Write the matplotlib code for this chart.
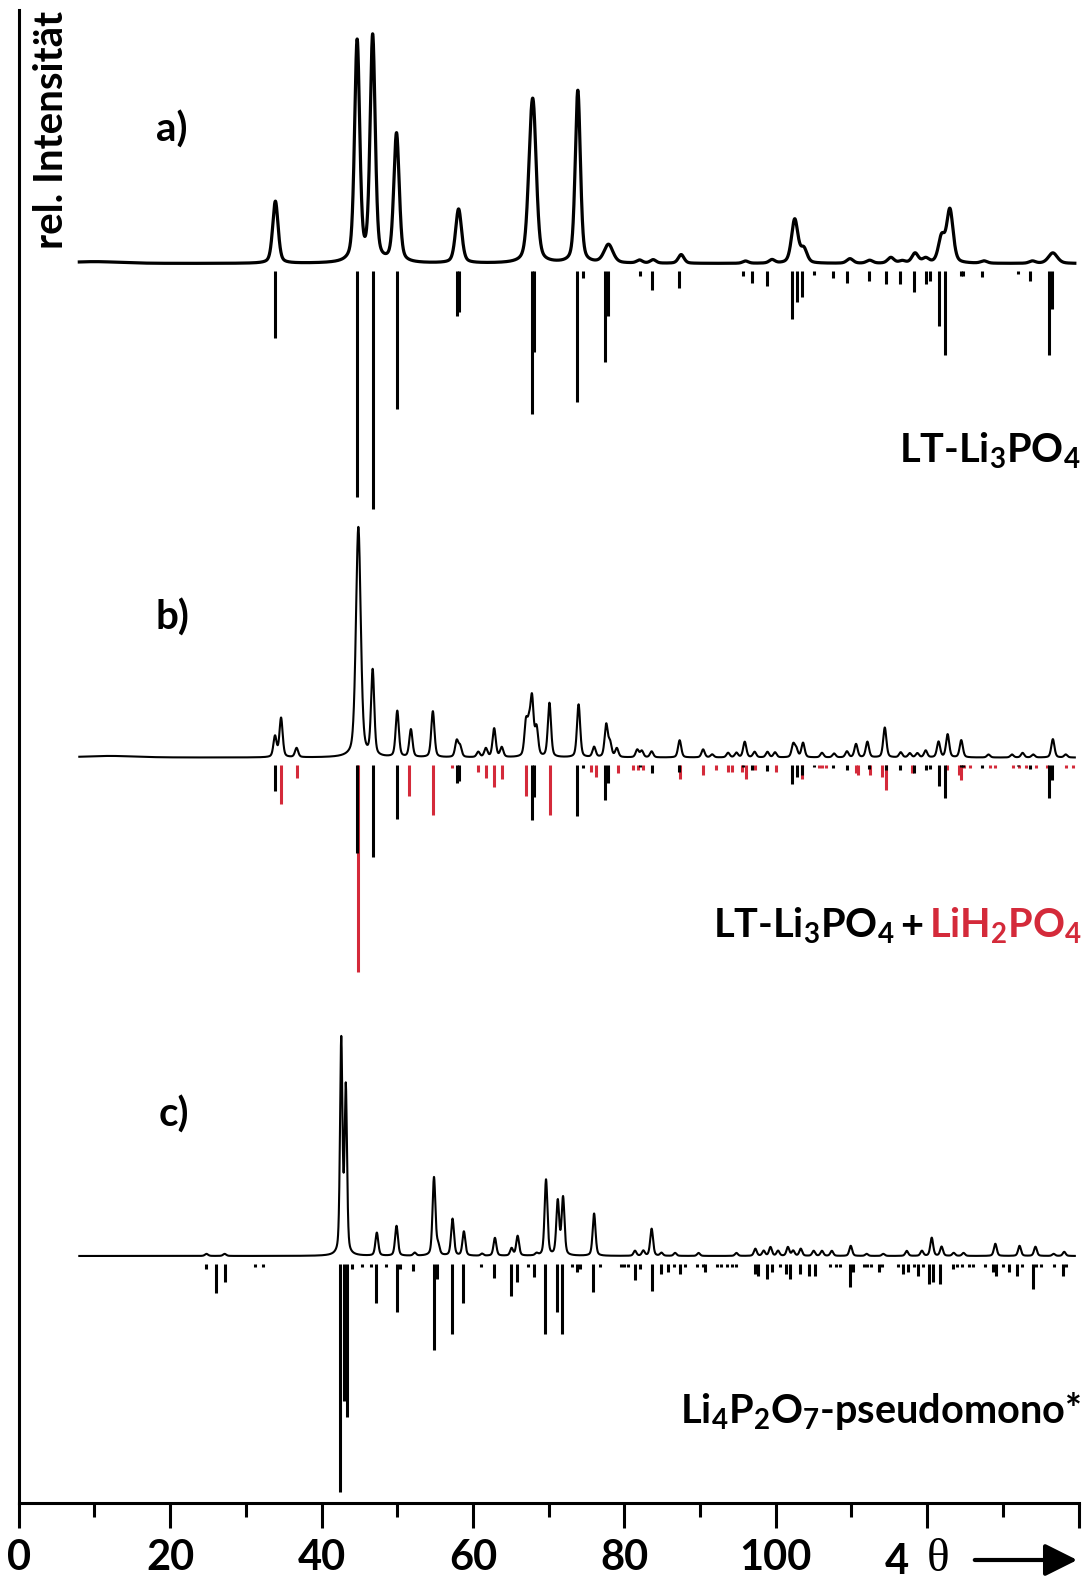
import numpy as np
import matplotlib
matplotlib.use("Agg")
import matplotlib.pyplot as plt

plt.rcParams['font.family'] = ['Lato', 'DejaVu Sans']
plt.rcParams['font.weight'] = 'bold'
plt.rcParams['mathtext.fontset'] = 'custom'
plt.rcParams['mathtext.rm'] = 'Lato:bold'
plt.rcParams['mathtext.it'] = 'Lato:bold'
plt.rcParams['mathtext.bf'] = 'Lato:bold'
plt.rcParams['mathtext.sf'] = 'Lato:bold'
plt.rcParams['mathtext.default'] = 'rm'

RED = '#d42a3a'

# ---------------- measured pattern a) LT-Li3PO4 ----------------
a_peak_pos = [10.0, 33.9, 44.7, 46.75, 49.9, 58.1, 67.6, 68.0, 73.85, 77.9, 82.0, 83.8,
              87.5, 96.0, 99.5, 102.5, 103.7, 109.8, 112.4, 115.2, 116.7, 118.4, 119.8,
              121.9, 123.0, 127.5, 133.9, 136.6]
a_peak_int = [0.8, 27, 96, 98, 56, 23.5, 28, 52, 75, 8, 1.3, 1.5,
              3.8, 1.0, 1.5, 19, 6, 2, 1.3, 2.5, 1.0, 4.3, 2.0,
              11, 23, 1.0, 1.0, 4.6]
a_peak_fwhm = [8.0, 0.85, 0.8, 0.8, 0.85, 0.95, 1.0, 1.0, 0.8, 1.4, 0.9, 0.9,
               0.9, 0.9, 0.9, 1.0, 1.0, 1.0, 1.0, 1.0, 1.0, 1.0, 1.0,
               1.0, 1.0, 1.0, 1.0, 1.4]

# reference lines LT-Li3PO4 (relative intensity, %)
li3po4_pos = [33.9, 44.7, 46.75, 49.9, 57.9, 58.2, 67.8, 68.1, 73.8, 74.6, 77.4, 77.9,
              82.0, 83.6, 87.2, 95.7, 96.9, 98.9, 102.2, 102.8, 103.5, 105.0, 107.5,
              109.4, 112.3, 114.6, 116.4, 118.2, 119.9, 120.4, 121.5, 122.4, 124.4,
              124.7, 127.3, 132.0, 133.6, 136.1, 136.5]
li3po4_int = [28, 95, 100, 58, 19, 17, 60, 34, 55, 3, 38, 19,
              2, 8, 7, 2, 5, 6, 20, 13, 11, 1.5, 3,
              5, 4, 5.5, 5.5, 8.5, 5.5, 4, 23, 35, 2,
              2, 2.5, 1, 4, 35, 16]

# ---------------- measured pattern b) ----------------
b_peak_pos = [12.0, 33.85, 34.65, 36.7, 44.86, 46.75, 50.0, 51.8, 54.7, 57.85, 58.3,
              60.7, 61.7, 62.8, 63.8, 67.0, 67.4, 67.8, 68.4, 70.1, 73.95, 76.0,
              77.6, 78.1, 79.0, 81.7, 82.3, 83.6, 87.3, 90.4, 91.6, 93.7, 94.8,
              95.9, 97.2, 98.9, 99.9, 102.3, 102.7, 103.6, 106.1, 107.7, 109.4,
              110.6, 112.1, 114.4, 116.5, 117.7, 118.7, 119.8, 121.5, 122.7, 124.5,
              128.1, 131.2, 132.6, 134.0, 136.6, 138.3]
b_peak_int = [0.7, 9, 17, 4, 100, 37, 20, 12, 20, 7, 4.5,
              2.3, 3.8, 12.5, 4.2, 14, 11, 24, 12, 23.5, 23, 4.4,
              14, 6, 3.8, 3.3, 2.8, 2.6, 7.5, 3.5, 1.3, 2, 2,
              6.8, 2.4, 2.4, 2.2, 5.5, 3.5, 6.3, 2, 1.7, 2.6,
              5.8, 6.8, 13, 2.2, 1.8, 1.8, 3, 6.8, 10, 7.5,
              1.3, 1.3, 2, 1.3, 8, 1.3]
b_peak_fwhm = [8.0, 0.5, 0.5, 0.5, 0.75] + [0.5] * 54

# reference lines LiH2PO4 (relative intensity, %)
lih2po4_pos = [34.7, 36.7, 44.8, 51.6, 54.7, 57.2, 60.6, 61.7, 62.8, 63.8, 67.0, 70.2,
               75.6, 76.3, 79.2, 81.2, 81.8, 82.4, 87.3, 90.4, 92.1, 93.7, 94.2, 95.6,
               96.0, 97.3, 100.0, 103.5, 105.7, 106.1, 106.6, 110.6, 110.9, 112.5,
               114.0, 114.6, 118.0, 122.6, 124.2, 124.5, 124.9, 125.6, 128.3, 129.0,
               131.4, 132.1, 133.0, 134.4, 135.8, 138.4, 139.3]
lih2po4_int = [18.5, 6, 100, 15, 24, 1.5, 3, 6, 10.5, 6.5, 15, 24,
               3, 5.6, 3.6, 2, 2, 2.4, 6.8, 4.8, 2.4, 3, 3, 3,
               6.8, 2.4, 3.4, 6.8, 1.5, 1.5, 1.5, 3.6, 4.8, 4.8,
               5.8, 12, 3.9, 2.4, 4.8, 7.3, 1.5, 1.5, 1.5, 1.5,
               1.5, 1.5, 1.5, 1.5, 1.5, 1.5, 1.5]

# ---------------- measured pattern c) ----------------
c_peak_pos = [24.8, 27.2, 42.6, 43.2, 47.3, 49.9, 52.3, 54.85, 55.4, 57.3, 58.8, 61.2,
              62.9, 65.1, 65.9, 68.4, 69.65, 71.2, 71.9, 76.0, 81.4, 82.5, 83.6, 84.9,
              86.7, 89.8, 94.8, 97.3, 98.4, 99.3, 100.3, 101.6, 102.3, 103.3, 105.0,
              106.1, 107.4, 109.9, 112.0, 114.2, 117.3, 119.3, 120.6, 121.9, 123.5,
              124.8, 129.0, 132.2, 134.3, 136.7, 138.1]
c_peak_int = [0.9, 0.9, 93, 72, 10, 13, 1.3, 34, 4, 16, 10.5, 0.9,
              7.8, 3.2, 8.6, 0.9, 33, 23.5, 25, 18.4, 2.2, 2.2, 11.8, 1.3,
              1.3, 1.3, 1.3, 3.1, 2.2, 3.8, 2.2, 3.8, 2.2, 3.1, 2.2,
              2.2, 2.2, 4.4, 0.9, 0.9, 2.2, 2.2, 7.9, 4, 1.3,
              1.3, 5.3, 4.4, 4, 0.9, 1.8]
c_peak_fwhm = [0.5, 0.5, 0.38, 0.38] + [0.45] * 47

# reference lines Li4P2O7-pseudomono (relative intensity, %)
li4p2o7_pos = [24.8, 26.0, 27.2, 31.2, 32.2, 42.45, 42.9, 43.3, 44.0, 45.4, 46.5, 47.2,
               48.5, 49.9, 50.3, 52.1, 54.85, 55.2, 57.2, 58.7, 61.0, 62.8, 65.0, 65.8,
               67.3, 68.1, 69.5, 71.1, 71.7, 73.1, 73.8, 74.2, 75.9, 76.8, 79.5, 79.9,
               80.5, 81.4, 82.1, 83.6, 84.9, 85.8, 86.5, 87.4, 88.0, 89.6, 90.4, 90.7,
               92.3, 92.8, 93.5, 94.2, 94.8, 97.3, 97.7, 98.8, 99.5, 100.6, 101.3, 101.9,
               103.2, 104.4, 105.2, 107.2, 108.0, 108.5, 109.8, 110.2, 111.6, 112.1,
               112.6, 113.6, 114.0, 116.2, 116.8, 117.5, 118.2, 118.8, 119.5, 120.3,
               120.8, 121.7, 123.4, 124.0, 124.6, 125.5, 126.1, 127.6, 128.7, 129.1,
               130.0, 130.8, 131.8, 132.5, 134.0, 134.4, 135.0, 136.7, 138.0, 138.4]
li4p2o7_int = [2.2, 13, 8, 1.3, 1.3, 100, 60, 67, 2.2, 1.3, 1.3, 17,
               1.3, 21, 2.2, 3, 38, 6.6, 31, 17, 1.3, 6.3, 14, 7.8,
               1.3, 5.8, 31, 21, 31, 1.3, 3.5, 2.2, 12.3, 1.3, 1.3, 1.3,
               1.3, 7.3, 2.2, 12, 4.4, 3.5, 1.3, 4.4, 1.3, 1.3, 1.3, 3.5,
               1.3, 1.3, 1.3, 1.3, 1.3, 4.4, 5.3, 6.6, 3.5, 1.3, 4.4, 6.6,
               4.4, 5.3, 5.3, 1.3, 1.3, 1.3, 10, 3.5, 1.3, 1.3,
               1.3, 3.5, 1.3, 1.3, 4.4, 3.5, 1.3, 5.3, 1.3, 8.8,
               7.9, 8.8, 2.2, 1.3, 1.3, 1.3, 1.3, 1.3, 3.5, 5.3,
               1.3, 3.5, 5.3, 1.3, 11, 1.3, 1.3, 1.3, 5.3, 1.3]

x_ticks = [0, 20, 40, 60, 80, 100, 120, 140]
x_tick_labels = ['0', '20', '40', '60', '80', '100', '', '']


def pattern(x, pos, inten, fwhm, eta=0.4):
    """Sum of pseudo-Voigt reflections."""
    y = np.zeros_like(x)
    for c, h, w in zip(pos, inten, fwhm):
        d = (x - c) / (w / 2.0)
        y += h * (eta / (1.0 + d ** 2) + (1.0 - eta) * np.exp(-np.log(2) * d ** 2))
    return y


fig = plt.figure(figsize=(10.89, 15.84), dpi=100)
W, H = 1089.0, 1584.0
ax = fig.add_axes([18.75 / W, 81 / H, (1078.6 - 18.75) / W, (1584 - 81 - 10) / H])
ax.set_xlim(0, 140)
ax.set_ylim(0, 1493 / 2.3)

# vertical offsets of the three panels and scaling of stick diagrams
base_a, base_b, base_c = 538.9, 324.1, 107.4
gap = 3.4
two_theta = np.linspace(8.0, 139.5, 8000)

ax.plot(two_theta, base_a + pattern(two_theta, a_peak_pos, a_peak_int, a_peak_fwhm),
        color='black', lw=2.3, solid_joinstyle='round')
ax.plot(two_theta, base_b + pattern(two_theta, b_peak_pos, b_peak_int, b_peak_fwhm),
        color='black', lw=1.5)
ax.plot(two_theta, base_c + pattern(two_theta, c_peak_pos, c_peak_int, c_peak_fwhm),
        color='black', lw=1.5)


def sticks(pos, inten, base, scale, color, z):
    top = base - gap
    ax.vlines(pos, top - np.asarray(inten) * scale / 100.0, top,
              colors=color, lw=2.2, zorder=z)


sticks(li3po4_pos, li3po4_int, base_a, 103.3, 'black', 3)
sticks(lih2po4_pos, lih2po4_int, base_b, 89.9, RED, 2)
sticks(li3po4_pos, li3po4_int, base_b, 39.9, 'black', 3)
sticks(li4p2o7_pos, li4p2o7_int, base_c, 99.1, 'black', 3)

# axes styling: only the left and bottom spines
for s in ('top', 'right'):
    ax.spines[s].set_visible(False)
for s in ('left', 'bottom'):
    ax.spines[s].set_linewidth(2.2)
ax.set_yticks([])
ax.set_xticks(x_ticks)
ax.set_xticklabels(x_tick_labels, fontsize=30, fontweight='bold')
ax.set_xticks(np.arange(10, 140, 20), minor=True)
ax.tick_params(axis='x', which='major', direction='out', length=18, width=2.2, pad=8)
ax.tick_params(axis='x', which='minor', direction='out', length=10, width=2.2)


def fx(px):
    return px / W


def fy(py):
    return 1.0 - py / H


fs = 28.5
fig.text(fx(52), fy(130), 'rel. Intensität', rotation=90, ha='center', va='center',
         fontsize=29, fontweight='bold')
fig.text(fx(172), fy(130), 'a)', ha='center', va='center', fontsize=29, fontweight='bold')
fig.text(fx(172), fy(618), 'b)', ha='center', va='center', fontsize=29, fontweight='bold')
fig.text(fx(174), fy(1115), 'c)', ha='center', va='center', fontsize=29, fontweight='bold')

fig.text(fx(1081), fy(463), r'LT-Li$_3$PO$_4$', ha='right', va='baseline',
         fontsize=fs, fontweight='bold')
fig.text(fx(1081), fy(1423), r'Li$_4$P$_2$O$_7$-pseudomono*', ha='right', va='baseline',
         fontsize=fs, fontweight='bold')

fig.canvas.draw()
renderer = fig.canvas.get_renderer()
t_red = fig.text(fx(1082), fy(938), r'LiH$_2$PO$_4$', ha='right', va='baseline',
                 fontsize=fs, fontweight='bold', color=RED)
x0 = t_red.get_window_extent(renderer).x0
t_plus = fig.text((x0 - 6) / W, fy(938), '+', ha='right', va='baseline',
                  fontsize=fs, fontweight='bold')
x1 = t_plus.get_window_extent(renderer).x0
fig.text((x1 - 5) / W, fy(938), r'LT-Li$_3$PO$_4$', ha='right', va='baseline',
         fontsize=fs, fontweight='bold')

# axis title "4 theta" with arrow
fig.text(fx(897), fy(1562), '4', ha='center', va='center', fontsize=30, fontweight='bold')
fig.text(fx(938), fy(1560), 'θ', ha='center', va='center', fontsize=34,
         family=['Liberation Serif', 'DejaVu Serif'], fontweight='normal')
fig.patches.append(matplotlib.patches.FancyArrowPatch(
    (fx(972), fy(1560)), (fx(1080), fy(1560)), transform=fig.transFigure,
    arrowstyle='-|>,head_length=0.9,head_width=0.45', mutation_scale=22,
    lw=3, color='black'))

fig.savefig('out.png', dpi=100)
